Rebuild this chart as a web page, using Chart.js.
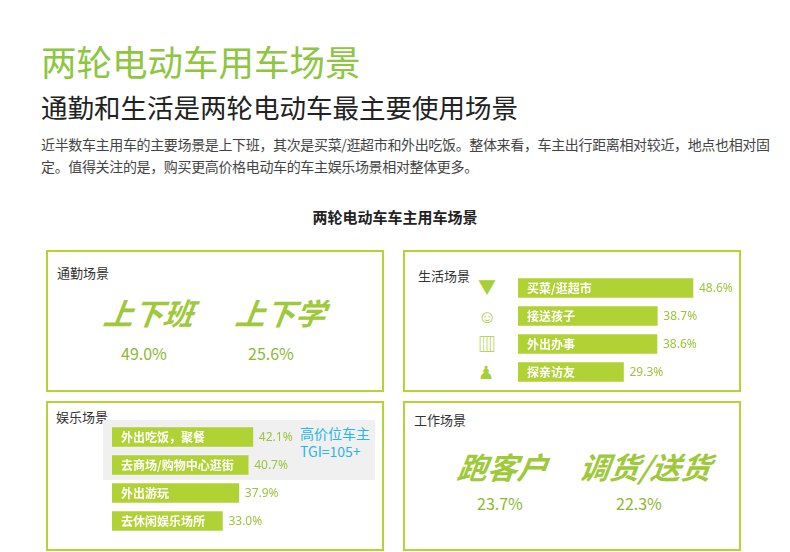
<!DOCTYPE html>
<html><head><meta charset="utf-8">
<script src="https://cdn.jsdelivr.net/npm/chart.js@4"></script>
<style>
body{margin:0;width:790px;height:552px;overflow:hidden;background:#fff;font-family:"Noto Sans CJK SC","Noto Sans",sans-serif;position:relative}
.a{position:absolute;white-space:nowrap}
.box{position:absolute;border:2px solid #b5d334;box-sizing:border-box}
.big{font-size:30px;font-weight:bold;font-style:italic;color:#9ec93a;transform:skewX(-8deg)}
.pct{font-size:16px;color:#8ab832}
.hd{font-size:13px;color:#333}
.ic{font-size:18px;color:#a8cf38;line-height:20px}
canvas{position:absolute}
</style></head><body>
<div class="a" style="left:41px;top:35px;font-size:35.5px;color:#8dc63f">两轮电动车用车场景</div>
<div class="a" style="left:41px;top:87px;font-size:26.5px;color:#222">通勤和生活是两轮电动车最主要使用场景</div>
<div class="a" style="left:41px;top:133px;font-size:14px;line-height:22px;color:#444;white-space:normal;width:735px;letter-spacing:-0.35px">近半数车主用车的主要场景是上下班，其次是买菜/逛超市和外出吃饭。整体来看，车主出行距离相对较近，地点也相对固定。值得关注的是，购买更高价格电动车的车主娱乐场景相对整体更多。</div>
<div class="a" style="left:0;width:790px;text-align:center;top:206px;font-size:15px;font-weight:bold;color:#222">两轮电动车车主用车场景</div>

<div class="box" style="left:46px;top:250px;width:338px;height:142px"></div>
<div class="box" style="left:403px;top:250px;width:338px;height:142px"></div>
<div class="box" style="left:46px;top:401px;width:338px;height:150px"></div>
<div class="box" style="left:403px;top:401px;width:338px;height:150px"></div>

<div class="a hd" style="left:57px;top:263px">通勤场景</div>
<div class="a big" style="left:104px;top:290px">上下班</div>
<div class="a big" style="left:236px;top:290px">上下学</div>
<div class="a pct" style="left:121px;top:341px">49.0%</div>
<div class="a pct" style="left:248px;top:341px">25.6%</div>

<div class="a hd" style="left:418px;top:266px">生活场景</div>
<div class="a ic" style="left:478px;top:276px">▼</div>
<div class="a ic" style="left:478px;top:305px">☺</div>
<div class="a ic" style="left:478px;top:333px">▥</div>
<div class="a ic" style="left:478px;top:361px">♟</div>

<div class="a hd" style="left:56px;top:407px">娱乐场景</div>
<div class="a" style="left:103px;top:420px;width:272px;height:60px;background:#f0f0f0"></div>
<div class="a" style="left:300px;top:426px;font-size:14px;line-height:14px;color:#29b6e6">高价位车主</div>
<div class="a" style="left:300px;top:444px;font-size:14px;line-height:14px;color:#29b6e6">TGI=105+</div>

<div class="a hd" style="left:414px;top:410px">工作场景</div>
<div class="a big" style="left:458px;top:444px">跑客户</div>
<div class="a big" style="left:580px;top:444px">调货/送货</div>
<div class="a pct" style="left:477px;top:491px">23.7%</div>
<div class="a pct" style="left:616px;top:491px">22.3%</div>

<canvas id="c1" style="left:518px;top:274px;width:216px;height:112px" width="216" height="112"></canvas>
<canvas id="c2" style="left:112px;top:423px;width:184px;height:112px" width="184" height="112"></canvas>
<script>
const lifeLabels=["买菜/逛超市","接送孩子","外出办事","探亲访友"];
const lifeValues=[48.6,38.7,38.6,29.3];
const funLabels=["外出吃饭，聚餐","去商场/购物中心逛街","外出游玩","去休闲娱乐场所"];
const funValues=[42.1,40.7,37.9,33.0];
const lbl={id:'lbl',afterDatasetsDraw(ch){const c=ch.ctx;const m=ch.getDatasetMeta(0);c.save();c.textBaseline='middle';
m.data.forEach((b,i)=>{c.font='bold 12px "Noto Sans CJK SC"';c.fillStyle='#fff';c.textAlign='left';c.fillText(ch.data.labels[i],b.base+9,b.y);
c.font='12px "Noto Sans"';c.fillStyle='#9cc43c';c.fillText(ch.data.datasets[0].data[i].toFixed(1)+'%',b.x+6,b.y+1);});c.restore();}};
function mk(id,labels,vals,max){new Chart(document.getElementById(id),{type:'bar',data:{labels,datasets:[{data:vals,backgroundColor:'#b0d235',barThickness:19}]},
options:{indexAxis:'y',responsive:false,animation:false,layout:{padding:0},plugins:{legend:{display:false},tooltip:{enabled:false}},
scales:{x:{display:false,min:0,max:max},y:{display:false}}},plugins:[lbl]});}
mk('c1',lifeLabels,lifeValues,60);mk('c2',funLabels,funValues,55);
</script></body></html>
